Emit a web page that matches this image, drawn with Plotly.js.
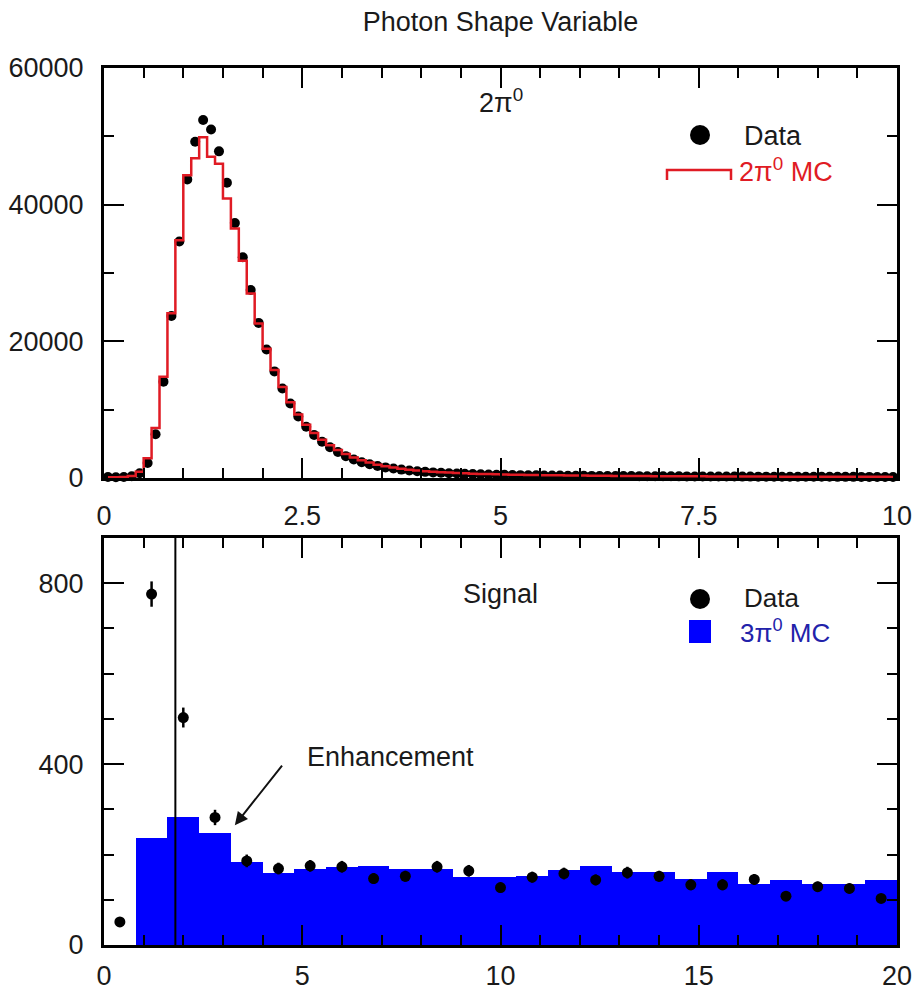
<!DOCTYPE html>
<html><head><meta charset="utf-8">
<script src="https://cdn.plot.ly/plotly-3.0.1.min.js"></script>
<style>html,body{margin:0;padding:0;background:#fff}#chart{width:914px;height:999px}</style>
</head><body><div id="chart"></div>
<script>
// ---------- Top panel: 2pi0 control sample (bin width 0.1, 0..10) ----------
const topBinWidth = 0.1;
const topData = [
  150, 120, 150, 250, 700, 2200, 6400, 14100, 23700, 34600,
  43700, 49200, 52400, 51000, 47800, 43200, 37300, 32300, 27500, 22700,
  18800, 15600, 13100, 10900, 9000, 7500, 6300, 5300, 4500, 3800,
  3200, 2700, 2300, 2000, 1750, 1550, 1380, 1230, 1100, 990,
  900, 820, 760, 700, 650, 610, 570, 540, 510, 480,
  460, 440, 420, 400, 390, 375, 360, 350, 340, 330,
  320, 310, 300, 295, 290, 280, 275, 270, 262, 255,
  250, 245, 240, 235, 230, 226, 222, 218, 214, 210,
  206, 203, 200, 196, 193, 190, 187, 184, 181, 178,
  175, 172, 170, 168, 165, 163, 160, 158, 156, 154
];
const topMC = [
  100, 100, 150, 300, 900, 2900, 7300, 14800, 24100, 34800,
  44300, 46800, 49850, 47000, 46000, 40900, 36500, 31800, 27000, 22600,
  18900, 15800, 13300, 11100, 9300, 7800, 6600, 5600, 4800, 4100,
  3500, 3000, 2600, 2250, 1950, 1720, 1520, 1360, 1220, 1100,
  1000, 920, 850, 790, 730, 680, 640, 600, 570, 540,
  515, 490, 470, 450, 430, 415, 400, 385, 372, 360,
  348, 337, 327, 318, 309, 300, 292, 285, 278, 271,
  265, 259, 253, 248, 243, 238, 233, 229, 225, 221,
  217, 213, 210, 206, 203, 200, 197, 194, 191, 188,
  185, 182, 180, 177, 175, 172, 170, 168, 166, 164
];

// ---------- Bottom panel: signal sample (bin width 0.8, 0..20) ----------
const botBinWidth = 0.8;
const botData = [51, 776, 503, 282, 186, 169, 175, 173, 147, 152,
                 173, 164, 127, 150, 158, 144, 160, 152, 133, 133,
                 145, 108, 129, 125, 103];
const botErr  = [7, 28, 22, 17, 14, 13, 13, 13, 12, 12,
                 13, 13, 11, 12, 13, 12, 13, 12, 12, 12,
                 12, 10, 11, 11, 10];
const botMC   = [0, 236, 284, 248, 184, 160, 167, 173, 175, 167,
                 167, 151, 151, 153, 166, 175, 162, 162, 147, 162,
                 134, 144, 136, 136, 144];
const cutValue = 1.8;

const topCenters = topData.map((_, i) => +((i + 0.5) * topBinWidth).toFixed(3));
const botCenters = botData.map((_, i) => +((i + 0.5) * botBinWidth).toFixed(3));

const FONT = 'Liberation Sans, Arial, Helvetica, sans-serif';
const RED = '#e01b24';
const BLUE = '#0000ff';

const traces = [
  { type: 'scatter', mode: 'markers', x: topCenters, y: topData, xaxis: 'x', yaxis: 'y',
    marker: { color: '#000', size: 10 }, cliponaxis: false, showlegend: false, name: 'Data' },
  { type: 'scatter', mode: 'lines', x: topCenters, y: topMC, xaxis: 'x', yaxis: 'y',
    line: { color: RED, width: 2.5, shape: 'hvh' }, showlegend: false, name: '2π0 MC' },
  { type: 'bar', x: botCenters, y: botMC, width: botBinWidth, xaxis: 'x2', yaxis: 'y2',
    marker: { color: BLUE, line: { width: 0 } }, showlegend: false, name: '3π0 MC' },
  { type: 'scatter', mode: 'markers', x: botCenters, y: botData, xaxis: 'x2', yaxis: 'y2',
    marker: { color: '#000', size: 11 },
    error_y: { type: 'data', array: botErr, visible: true, color: '#000', thickness: 2.5, width: 0 },
    cliponaxis: false, showlegend: false, name: 'Data' }
];

// pixel -> paper helpers (plot area: x 104..897, y 68..945)
const L = 104, R = 17, T = 68, B = 54, W = 914, H = 999;
const px = X => (X - L) / (W - L - R);
const py = Y => (H - B - Y) / (H - T - B);

const axisCommon = {
  showline: true, linewidth: 3, linecolor: '#000', mirror: 'allticks',
  ticks: 'inside', ticklen: 20, tickwidth: 2, tickcolor: '#000',
  showgrid: false, zeroline: false,
  tickfont: { family: FONT, size: 27, color: '#1a1a1a' }
};

const layout = {
  width: W, height: H,
  margin: { l: L, r: R, t: T, b: B },
  paper_bgcolor: '#fff', plot_bgcolor: '#fff',
  font: { family: FONT, size: 27, color: '#1a1a1a' },
  title: { text: 'Photon Shape Variable', x: 0.5, xref: 'paper', xanchor: 'center',
           y: 1 - 22 / H, yanchor: 'middle', font: { family: FONT, size: 27, color: '#1a1a1a' } },
  bargap: 0,
  xaxis: Object.assign({}, axisCommon, { anchor: 'y', domain: [0, 1], range: [0, 10],
    tick0: 0, dtick: 2.5, ticklabelstandoff: 12,
    minor: { dtick: 0.5, ticks: 'inside', ticklen: 10, tickwidth: 2, tickcolor: '#000' } }),
  yaxis: Object.assign({}, axisCommon, { anchor: 'x', domain: [py(478), 1], range: [0, 60000],
    tick0: 0, dtick: 20000, tickformat: 'd', ticklabelstandoff: 12,
    minor: { dtick: 10000, ticks: 'inside', ticklen: 10, tickwidth: 2, tickcolor: '#000' } }),
  xaxis2: Object.assign({}, axisCommon, { anchor: 'y2', domain: [0, 1], range: [0, 20],
    tick0: 0, dtick: 5, ticklabelstandoff: 5,
    minor: { dtick: 1, ticks: 'inside', ticklen: 10, tickwidth: 2, tickcolor: '#000' } }),
  yaxis2: Object.assign({}, axisCommon, { anchor: 'x2', domain: [0, py(538)], range: [0, 900],
    tick0: 0, dtick: 400, tickformat: 'd', ticklabelstandoff: 12,
    minor: { dtick: 100, ticks: 'inside', ticklen: 10, tickwidth: 2, tickcolor: '#000' } }),
  shapes: [
    // cut line in the signal panel
    { type: 'line', xref: 'x2', yref: 'y2 domain', x0: cutValue, x1: cutValue, y0: 0, y1: 1,
      line: { color: '#000', width: 2 } },
    // legend glyphs, top panel
    { type: 'circle', xref: 'paper', yref: 'paper', x0: px(690), x1: px(710), y0: py(145), y1: py(125),
      fillcolor: '#000', line: { width: 0 } },
    { type: 'path', xref: 'paper', yref: 'paper',
      path: `M ${px(667)} ${py(180)} L ${px(667)} ${py(170)} L ${px(731)} ${py(170)} L ${px(731)} ${py(180)}`,
      line: { color: RED, width: 2.5 } },
    // legend glyphs, bottom panel
    { type: 'circle', xref: 'paper', yref: 'paper', x0: px(690), x1: px(710), y0: py(609), y1: py(589),
      fillcolor: '#000', line: { width: 0 } },
    { type: 'rect', xref: 'paper', yref: 'paper', x0: px(689), x1: px(711), y0: py(643), y1: py(620),
      fillcolor: BLUE, line: { width: 0 } }
  ],
  annotations: [
    { text: '2π<sup>0</sup>', xref: 'x', yref: 'y', x: 5.0, y: 55150, showarrow: false,
      font: { family: FONT, size: 27, color: '#1a1a1a' } },
    { text: 'Data', xref: 'paper', yref: 'paper', x: px(742), y: py(136), xanchor: 'left', yanchor: 'middle',
      showarrow: false, font: { family: FONT, size: 27, color: '#1a1a1a' } },
    { text: '2π<sup>0</sup> MC', xref: 'paper', yref: 'paper', x: px(737), y: py(170), xanchor: 'left', yanchor: 'middle',
      showarrow: false, font: { family: FONT, size: 27, color: RED } },
    { text: 'Signal', xref: 'x2', yref: 'y2', x: 10.0, y: 776, showarrow: false,
      font: { family: FONT, size: 27, color: '#1a1a1a' } },
    { text: 'Data', xref: 'paper', yref: 'paper', x: px(742), y: py(598), xanchor: 'left', yanchor: 'middle',
      showarrow: false, font: { family: FONT, size: 26, color: '#1a1a1a' } },
    { text: '3π<sup>0</sup> MC', xref: 'paper', yref: 'paper', x: px(738), y: py(631), xanchor: 'left', yanchor: 'middle',
      showarrow: false, font: { family: FONT, size: 26, color: '#2222aa' } },
    { text: 'Enhancement', xref: 'x2', yref: 'y2', x: 7.23, y: 415, showarrow: false,
      font: { family: FONT, size: 27, color: '#1a1a1a' } },
    { text: '', xref: 'x2', yref: 'y2', x: 3.3, y: 265, axref: 'x2', ayref: 'y2', ax: 4.52, ay: 400,
      showarrow: true, arrowhead: 2, arrowsize: 1.3, arrowwidth: 2, arrowcolor: '#111', standoff: 0 }
  ]
};

Plotly.newPlot('chart', traces, layout, { displayModeBar: false, staticPlot: true });
</script></body></html>
